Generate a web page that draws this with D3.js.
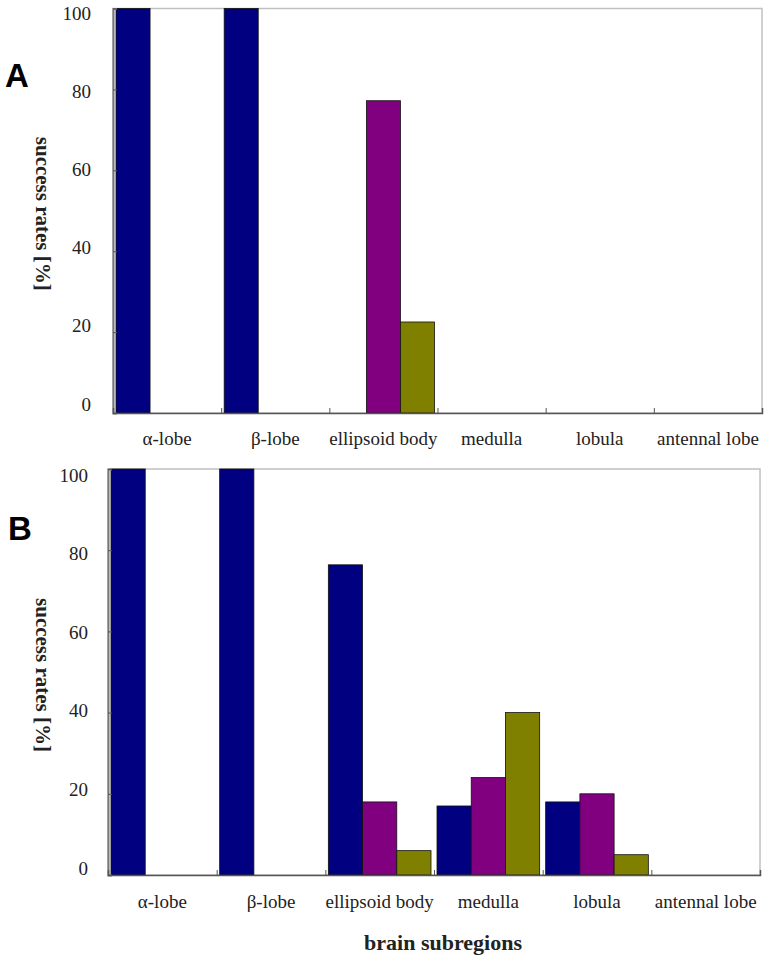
<!DOCTYPE html>
<html><head><meta charset="utf-8">
<script src="https://cdn.jsdelivr.net/npm/d3@7"></script>
<style>body{margin:0;background:#fff}</style></head>
<body><svg id="c" width="768" height="961"></svg>
<script>
// ---- data ----
const categories = ["α-lobe", "β-lobe", "ellipsoid body", "medulla", "lobula", "antennal lobe"];
const seriesKeys = ["s1", "s2", "s3"];
const panelA_s1 = [100, 100, 0, 0, 0, 0];
const panelA_s2 = [0, 0, 77.2, 0, 0, 0];
const panelA_s3 = [0, 0, 22.5, 0, 0, 0];
const panelB_s1 = [100, 100, 76.4, 17, 18, 0];
const panelB_s2 = [0, 0, 18, 24, 20, 0];
const panelB_s3 = [0, 0, 6, 40, 5, 0];
const yTicks = [0, 20, 40, 60, 80, 100];
const yTitle = "success rates [%]";
const xTitle = "brain subregions";

// ---- styles ----
const colors = ["#000080", "#800080", "#808000"];
const serif = "'Liberation Serif','Times New Roman',serif";

const svg = d3.select("#c");

const panels = [
  {id: "A", series: [panelA_s1, panelA_s2, panelA_s3], left: 113, right: 762, top: 8.5, bottom: 413,
   labTop: 13, labBottom: 404, labX: 91, catY: 445, letterX: 5, letterY: 87},
  {id: "B", series: [panelB_s1, panelB_s2, panelB_s3], left: 108, right: 760, top: 469, bottom: 875,
   labTop: 475, labBottom: 868, labX: 88, catY: 908, letterX: 8, letterY: 540}
];

panels.forEach(p => {
  const g = svg.append("g");
  const x = d3.scaleBand().domain(categories).range([p.left, p.right]).padding(0);
  const pad = 3;
  const xs = d3.scaleBand().domain(seriesKeys).range([pad, x.bandwidth() - pad]).padding(0);
  const y = d3.scaleLinear().domain([0, 100]).range([p.bottom, p.top]);
  const yLab = d3.scaleLinear().domain([0, 100]).range([p.labBottom, p.labTop]);

  // frame (top/right light gray)
  g.append("rect").attr("x", p.left).attr("y", p.top)
    .attr("width", p.right - p.left).attr("height", p.bottom - p.top)
    .attr("fill", "none").attr("stroke", "#c0c0c0").attr("stroke-width", 1.5);

  // bars
  const rows = [];
  categories.forEach((c, i) => {
    seriesKeys.forEach((k, j) => {
      const v = p.series[j][i];
      if (v > 0) rows.push({c, k, j, v});
    });
  });
  g.selectAll("rect.bar").data(rows).join("rect").attr("class", "bar")
    .attr("x", d => x(d.c) + xs(d.k))
    .attr("width", xs.bandwidth())
    .attr("y", d => y(d.v))
    .attr("height", d => y(0) - y(d.v))
    .attr("fill", d => colors[d.j])
    .attr("stroke", "#111").attr("stroke-width", 0.8);

  // y axis (inside ticks)
  const yAxis = g.append("g").attr("transform", `translate(${p.left},0)`)
    .call(d3.axisRight(y).tickValues(yTicks).tickSize(4).tickFormat(""));
  yAxis.select(".domain").attr("stroke", "#777").attr("stroke-width", 2);
  yAxis.selectAll(".tick line").attr("stroke", "#555");
  // y tick labels
  g.selectAll("text.ylab").data(yTicks).join("text").attr("class", "ylab")
    .attr("x", p.labX).attr("y", d => yLab(d)).attr("dy", "0.35em")
    .attr("text-anchor", "end")
    .style("font-family", serif).style("font-size", "19px").attr("fill", "#222")
    .text(d => d);

  // x axis (ticks at band boundaries, pointing up)
  const xb = d3.scaleLinear().domain([0, categories.length]).range([p.left, p.right]);
  const xAxis = g.append("g").attr("transform", `translate(0,${p.bottom})`)
    .call(d3.axisTop(xb).tickValues(d3.range(1, categories.length + 1)).tickSize(5).tickFormat(""));
  xAxis.select(".domain").attr("stroke", "#555").attr("stroke-width", 1.5);
  xAxis.selectAll(".tick line").attr("stroke", "#555");

  // category labels
  g.selectAll("text.cat").data(categories).join("text").attr("class", "cat")
    .attr("x", d => x(d) + x.bandwidth() / 2).attr("y", p.catY)
    .attr("text-anchor", "middle")
    .style("font-family", serif).style("font-size", "19px").attr("fill", "#222")
    .text(d => d);

  // y title (rotated, reading downward)
  const cy = (p.top + p.bottom) / 2 + 3;
  g.append("text").attr("transform", `translate(36,${cy}) rotate(90)`)
    .attr("text-anchor", "middle")
    .style("font-family", serif).style("font-size", "21px").style("font-weight", "bold")
    .attr("fill", "#222").text(yTitle);

  // panel letter
  g.append("text").attr("x", p.letterX).attr("y", p.letterY)
    .style("font-family", "'Liberation Sans',Arial,sans-serif").style("font-size", "33px")
    .style("font-weight", "bold").attr("fill", "#000").text(p.id);
});

svg.append("text").attr("x", 443).attr("y", 950).attr("text-anchor", "middle")
  .style("font-family", serif).style("font-size", "22px").style("font-weight", "bold")
  .attr("fill", "#222").text(xTitle);
</script>
</body></html>
